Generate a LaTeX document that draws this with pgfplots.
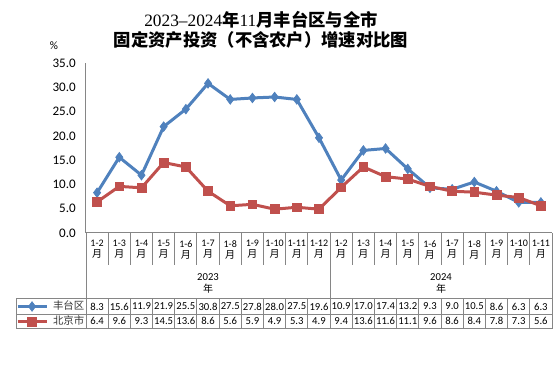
\documentclass[border=0pt]{standalone}
\usepackage{fontspec}
\setmainfont{Carlito}
\newfontfamily\cjk{Noto Sans CJK SC}
\newfontfamily\tserif{Liberation Serif}
\usepackage{pgfplots}
\usepackage{pgfplotstable}
\pgfplotsset{compat=1.18}
\definecolor{ftblue}{RGB}{79,129,189}
\definecolor{bjred}{RGB}{192,80,77}
\definecolor{gridgray}{RGB}{134,134,134}
\newcommand\yue{{\cjk 月}}
\pgfplotstableread{
x ft bj
0 8.3 6.4
1 15.6 9.6
2 11.9 9.3
3 21.9 14.5
4 25.5 13.6
5 30.8 8.6
6 27.5 5.6
7 27.8 5.9
8 28.0 4.9
9 27.5 5.3
10 19.6 4.9
11 10.9 9.4
12 17.0 13.6
13 17.4 11.6
14 13.2 11.1
15 9.3 9.6
16 9.0 8.6
17 10.5 8.4
18 8.6 7.8
19 6.3 7.3
20 6.3 5.6
}\data
\begin{document}
\begin{tikzpicture}
\begin{scope}[x=0.75pt,y=-0.75pt]
\path[use as bounding box] (0,0) rectangle (554,388);
\end{scope}
\begin{axis}[
  at={(64.5pt,-174.75pt)}, anchor=south west,
  scale only axis, width=349.5pt, height=127.5pt,
  xmin=-0.5, xmax=20.5, ymin=0, ymax=35,
  clip=false,
  axis lines*=left,
  axis line style={draw=gridgray, line width=0.75pt},
  major tick length=0pt,
  ytick={0,5,...,35},
  /pgf/number format/assume math mode=true,
  yticklabel={\pgfmathprintnumber[fixed,fixed zerofill,precision=1]{\tick}},
  yticklabel style={font=\fontsize{9.8}{12}\selectfont, inner sep=0pt, xshift=-7.5pt},
  xtick={0,...,20},
  xticklabels={{1-2\\\yue},{1-3\\\yue},{1-4\\\yue},{1-5\\\yue},{1-6\\\yue},{1-7\\\yue},{1-8\\\yue},{1-9\\\yue},{1-10\\\yue},{1-11\\\yue},{1-12\\\yue},{1-2\\\yue},{1-3\\\yue},{1-4\\\yue},{1-5\\\yue},{1-6\\\yue},{1-7\\\yue},{1-8\\\yue},{1-9\\\yue},{1-10\\\yue},{1-11\\\yue}},
  xticklabel style={align=center, inner sep=0pt, font=\fontsize{7.5}{8.25}\selectfont, yshift=-5.25pt},
  legend style={at={(rel axis cs:-0.1502,-0.3882)}, anchor=north west, draw=none, fill=none, inner sep=0pt, outer sep=0pt,
    row sep=0pt, nodes={inner sep=0pt, minimum height=11.25pt, font=\fontsize{7.8}{9}\selectfont\cjk, text=black!80},
    /tikz/every odd column/.append style={column sep=3.75pt}},
  legend cell align=left,
  legend image code/.code={\draw[mark repeat=2,mark phase=2,#1] plot coordinates {(1.5pt,0pt) (12.4pt,0pt) (23.25pt,0pt)};},
]
\addplot[ftblue, line width=2.25pt, mark=diamond*, mark size=3.6pt, mark options={solid, line width=0.5pt}] table[x=x,y=ft]{\data};
\addlegendentry{丰台区}
\addplot[bjred, line width=2.25pt, mark=square*, mark size=3.3pt, mark options={solid, line width=0.5pt}] table[x=x,y=bj]{\data};
\addlegendentry{北京市}
\addplot[draw=none, mark=none, forget plot, nodes near coords, point meta=explicit symbolic,
  every node near coord/.append style={anchor=center, inner sep=0pt, font=\fontsize{8}{9}\selectfont, text=black}]
  table[x=x, y expr=-15.13, meta=ft]{\data};
\addplot[draw=none, mark=none, forget plot, nodes near coords, point meta=explicit symbolic,
  every node near coord/.append style={anchor=center, inner sep=0pt, font=\fontsize{8}{9}\selectfont, text=black}]
  table[x=x, y expr=-18.2, meta=bj]{\data};
\end{axis}
\begin{scope}[x=0.75pt,y=-0.75pt]
\draw[gridgray, line width=0.75pt]
  \foreach \k in {1,...,21} { ({86+\k*466/21},233) -- ({86+\k*466/21},265) }
  \foreach \k in {1,...,20} { ({86+\k*466/21},299) -- ({86+\k*466/21},329) }
  (86,233) -- (86,329)
  (552,233) -- (552,329)
  ({86+11*466/21},233) -- ({86+11*466/21},299)
  (16,299) -- (16,329)
  (16,299) -- (552,299)
  (16,314.3) -- (552,314.3)
  (16,329) -- (552,329);
\node[font=\fontsize{8}{9}\selectfont] at ({86+5.5*466/21},277) {2023};
\node[font=\fontsize{7.5}{9}\selectfont\cjk] at ({86+5.5*466/21},289) {年};
\node[font=\fontsize{8}{9}\selectfont] at ({86+16*466/21},277) {2024};
\node[font=\fontsize{7.5}{9}\selectfont\cjk] at ({86+16*466/21},289) {年};
\node[font=\fontsize{8.5}{10}\selectfont] at (54,46) {\%};
\node[font=\fontsize{13}{15}\selectfont] at (261,20) {\tserif 2023–2024{\cjk\bfseries 年}11{\cjk\bfseries 月丰台区与全市}};
\node[font=\fontsize{13}{15}\selectfont\cjk\bfseries] at (261,40) {固定资产投资（不含农户）增速对比图};
\end{scope}
\end{tikzpicture}
\end{document}
